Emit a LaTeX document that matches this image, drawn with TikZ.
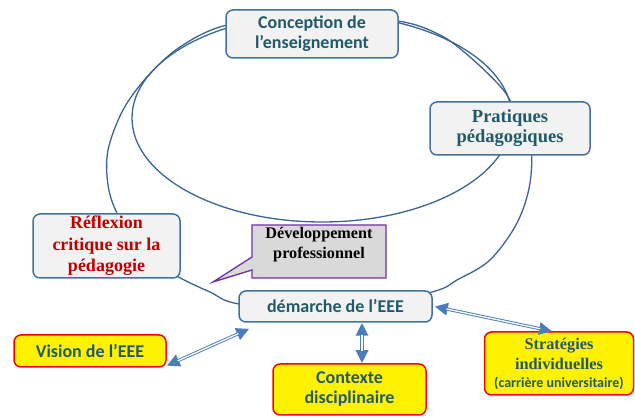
\documentclass[tikz,border=0pt]{standalone}
\usepackage{fontspec}
\setmainfont{Liberation Serif}
\newfontfamily\calfont{Carlito}
\usetikzlibrary{arrows.meta,calc}
\definecolor{txtteal}{HTML}{215968}
\definecolor{boxblue}{HTML}{41719C}
\definecolor{curveblue}{HTML}{3A6496}
\definecolor{boxfill}{HTML}{F2F2F2}
\definecolor{arrowblue}{HTML}{4A7EBB}
\definecolor{refred}{HTML}{C00000}
\definecolor{devpurple}{HTML}{7030A0}
\definecolor{devgrey}{HTML}{D9D9D9}
\begin{document}
\begin{tikzpicture}[x=1pt,y=-1pt,
  greybox/.style={rounded corners=7pt, draw=boxblue, line width=1.5pt, fill=boxfill, align=center, inner sep=0pt},
  yellowbox/.style={rounded corners=7pt, draw=red, line width=1.5pt, fill=yellow, align=center, inner sep=0pt},
  sanstext/.style={font=\calfont\bfseries\fontsize{18}{20}\selectfont, text=txtteal},
  curve/.style={draw=curveblue, line width=1.3pt},
  arrowouter/.style={draw=arrowblue, line width=3.2pt,
     {Triangle[length=13pt,width=12pt]}-{Triangle[length=13pt,width=12pt]}},
  arrowinner/.style={draw=white, line width=1.3pt, shorten <=12pt, shorten >=12pt}
]
\useasboundingbox (0,0) rectangle (635,419);
% loops
\draw[curve] (322,118) ellipse [x radius=190, y radius=104];
\draw[curve] plot[smooth cycle, tension=0.55] coordinates {
  (312,15) (227,25) (180,47) (147,77) (123,110) (108,150) (108,185) (117,213)
  (140,250) (177,276) (210,292) (239,304) (335,314) (432,292) (457,280) (490,260)
  (517,223) (530,183) (530,140) (512,104) (500,86) (470,57) (440,35) (398,21)};
% nodes
\node[greybox, sanstext, minimum width=172pt, minimum height=48pt] (conc) at (312,34) {Conception de\\l’enseignement};
\node[greybox, minimum width=160pt, minimum height=53pt, text=txtteal, font=\bfseries\fontsize{18.5}{20}\selectfont] (prat) at (510,128.5) {Pratiques\\pédagogiques};
\node[greybox, minimum width=147pt, minimum height=64pt, text=refred, font=\bfseries\fontsize{18}{21.5}\selectfont] (refl) at (106.5,246) {Réflexion\\critique sur la\\pédagogie};
\node[greybox, sanstext, minimum width=193pt, minimum height=31pt] (dem) at (335.5,306.5) {démarche de l’EEE};
% callout
\draw[draw=devpurple, fill=devgrey, line width=1.3pt]
  (252,225) -- (386,225) -- (386,278) -- (252,278) -- (252,270) -- (213,282) -- (252,257) -- cycle;
\node[align=center, font=\bfseries\fontsize{16.2}{20}\selectfont, inner sep=0pt] (dev) at (319,245) {Développement\\professionnel};
% yellow boxes
\node[yellowbox, sanstext, minimum width=152pt, minimum height=32pt] (vis) at (90,351) {Vision de l’EEE};
\node[yellowbox, sanstext, minimum width=153pt, minimum height=51pt] (ctx) at (349.5,389.5) {Contexte\\disciplinaire};
\node[yellowbox, minimum width=149pt, minimum height=63pt, text=txtteal, font=\bfseries\fontsize{16.3}{20}\selectfont] (strat) at (559,363.5)
  {Stratégies\\individuelles\\[-2pt]{\calfont\fontsize{14}{16}\selectfont (carrière universitaire)}};
% arrows
\draw[arrowouter] ([yshift=2pt]vis.south east) -- ([xshift=11pt,yshift=-6pt]dem.south west);
\draw[arrowinner] ([yshift=2pt]vis.south east) -- ([xshift=11pt,yshift=-6pt]dem.south west);
\draw[arrowouter] ([xshift=26.5pt]dem.south) -- ([xshift=12.5pt]ctx.north);
\draw[arrowinner] ([xshift=26.5pt]dem.south) -- ([xshift=12.5pt]ctx.north);
\draw[arrowouter] ([xshift=2pt]dem.east) -- ([xshift=-7pt]strat.north);
\draw[arrowinner] ([xshift=2pt]dem.east) -- ([xshift=-7pt]strat.north);
\end{tikzpicture}
\end{document}
